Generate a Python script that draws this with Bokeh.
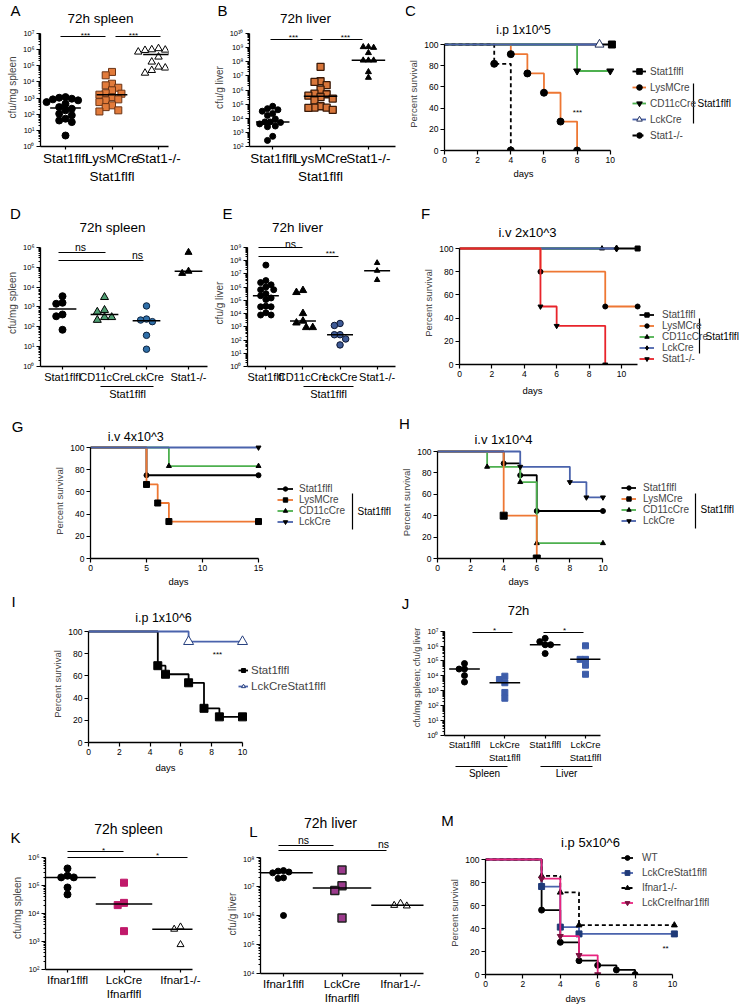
import numpy as np
from bokeh.plotting import figure
from bokeh.layouts import row, column
from bokeh.models import Range1d, FixedTicker, Label, Arrow, Legend, LegendItem
from bokeh.embed import file_html
from bokeh.resources import INLINE
from bokeh.core.properties import value

FONT = "Liberation Sans"

# ======================= DATA =======================
# scatter panels: log10 of the plotted value
A_cats = ["Stat1flfl", "LysMCre\nStat1flfl", "Stat1-/-"]
A_stat1flfl = [3.06, 3.02, 2.96, 2.92, 2.86, 2.75, 2.65, 2.44, 2.34, 2.24, 2.03, 1.93, 1.72, 1.61, 1.51, 0.68]
A_lysmcre = [4.62, 4.41, 3.89, 3.79, 3.64, 3.48, 3.30, 3.27, 3.21, 3.06, 2.92, 2.86, 2.75, 2.55, 2.44, 2.24, 2.17]
A_stat1ko = [6.07, 6.00, 5.98, 5.96, 5.90, 5.86, 5.55, 5.24, 4.93, 4.87, 4.72, 4.55]
A_sig = ["***", "***"]

B_cats = ["Stat1flfl", "LysMCre\nStat1flfl", "Stat1-/-"]
B_stat1flfl = [4.85, 4.68, 4.60, 4.50, 4.33, 4.20, 3.95, 3.74, 3.74, 3.70, 3.60, 3.45, 3.40, 2.72, 2.43]
B_lysmcre = [7.64, 6.62, 6.57, 6.34, 6.03, 5.75, 5.70, 5.60, 5.50, 5.39, 5.27, 4.85, 4.75, 4.75, 4.73, 4.60]
B_stat1ko = [9.05, 9.05, 9.00, 8.63, 8.10, 8.10, 8.10, 7.28, 6.88]
B_sig = ["***", "***"]

D_cats = ["Stat1flfl", "CD11cCre", "LckCre", "Stat1-/-"]
D_stat1flfl = [3.54, 3.21, 3.16, 2.62, 2.53, 1.85]
D_cd11ccre = [3.49, 2.84, 2.75, 2.48, 2.48, 2.34]
D_lckcre = [3.05, 2.39, 2.34, 2.26, 1.57, 0.87]
D_stat1ko = [5.75, 4.80, 4.69]
D_sig = ["ns", "ns"]
D_group = "Stat1flfl"

E_cats = ["Stat1flfl", "CD11cCre", "LckCre", "Stat1-/-"]
E_stat1flfl = [7.66, 6.49, 6.34, 6.17, 6.00, 5.80, 5.80, 5.50, 5.35, 5.18, 5.06, 4.56, 4.51, 4.51, 4.06, 3.89, 3.89]
E_cd11ccre = [5.75, 5.60, 4.01, 3.44, 3.30, 2.95, 2.95]
E_lckcre = [3.25, 3.10, 2.40, 2.40, 2.08, 1.63]
E_stat1ko = [7.83, 7.24, 6.54]
E_sig = ["ns", "***"]
E_group = "Stat1flfl"

J_cats = ["Stat1flfl", "LckCre\nStat1flfl", "Stat1flfl", "LckCre\nStat1flfl"]
J_groups = ["Spleen", "Liver"]
J_spleen_stat1flfl = [4.83, 4.46, 4.46, 4.02, 3.59]
J_spleen_lckcre = [3.98, 3.76, 3.54, 2.89, 2.50]
J_liver_stat1flfl = [6.52, 6.30, 6.09, 6.09, 5.50]
J_liver_lckcre = [6.02, 5.11, 5.11, 4.72, 4.11]
J_sig = ["*", "*"]

K_cats = ["Ifnar1flfl", "LckCre\nIfnarflfl", "Ifnar1-/-"]
K_ifnar1flfl = [5.61, 5.35, 5.29, 5.29, 4.93, 4.68]
K_lckcre = [5.10, 4.38, 4.30, 3.37]
K_ifnar1ko = [3.52, 3.44, 2.89]
K_sig = ["*", "*"]

L_cats = ["Ifnar1flfl", "LckCre\nIfnarflfl", "Ifnar1-/-"]
L_ifnar1flfl = [7.55, 7.53, 7.50, 7.47, 7.30, 7.28, 6.00]
L_lckcre = [7.57, 7.03, 6.86, 5.91]
L_ifnar1ko = [6.42, 6.35, 6.33]
L_sig = ["ns", "ns"]

# survival curves: event days, percent surviving after each event, last follow-up day
C_labels = ["Stat1flfl", "LysMCre", "CD11cCre", "LckCre", "Stat1-/-"]
C_stat1flfl_days, C_stat1flfl_surv, C_stat1flfl_end = [], [], 10.1
C_lysmcre_days, C_lysmcre_surv, C_lysmcre_end = [4, 5, 6, 7, 8], [90.9, 72.7, 54.5, 27.3, 0.0], None
C_cd11ccre_days, C_cd11ccre_surv, C_cd11ccre_end = [8], [75.0], 10
C_lckcre_days, C_lckcre_surv, C_lckcre_end = [], [], 9.35
C_stat1ko_days, C_stat1ko_surv, C_stat1ko_end = [3, 4], [81.8, 0.0], None

F_labels = ["Stat1flfl", "LysMCre", "CD11cCre", "LckCre", "Stat1-/-"]
F_stat1flfl_days, F_stat1flfl_surv, F_stat1flfl_end = [], [], 11
F_lysmcre_days, F_lysmcre_surv, F_lysmcre_end = [5, 9], [80.0, 50.0], 11
F_cd11ccre_days, F_cd11ccre_surv, F_cd11ccre_end = [], [], 8.8
F_lckcre_days, F_lckcre_surv, F_lckcre_end = [], [], 9.7
F_stat1ko_days, F_stat1ko_surv, F_stat1ko_end = [5, 6, 9], [50.0, 33.3, 0.0], None

G_labels = ["Stat1flfl", "LysMCre", "CD11cCre", "LckCre"]
G_stat1flfl_days, G_stat1flfl_surv, G_stat1flfl_end = [5], [75.0], 15
G_lysmcre_days, G_lysmcre_surv, G_lysmcre_end = [5, 6, 7], [66.7, 50.0, 33.3], 15
G_cd11ccre_days, G_cd11ccre_surv, G_cd11ccre_end = [7], [83.3], 15
G_lckcre_days, G_lckcre_surv, G_lckcre_end = [], [], 15

H_labels = ["Stat1flfl", "LysMCre", "CD11cCre", "LckCre"]
H_stat1flfl_days, H_stat1flfl_surv, H_stat1flfl_end = [4, 5, 6], [88.9, 77.8, 44.4], 10
H_lysmcre_days, H_lysmcre_surv, H_lysmcre_end = [4, 6], [40.0, 0.0], None
H_cd11ccre_days, H_cd11ccre_surv, H_cd11ccre_end = [3, 5, 6], [85.7, 71.4, 14.3], 10
H_lckcre_days, H_lckcre_surv, H_lckcre_end = [5, 8, 9], [85.7, 71.4, 57.1], 10

I_labels = ["Stat1flfl", "LckCreStat1flfl"]
I_stat1flfl_days, I_stat1flfl_surv, I_stat1flfl_end = [4.5, 5, 6.5, 7.5, 8.5], [69.2, 61.5, 53.8, 30.8, 23.1], 10
I_lckcre_days, I_lckcre_surv, I_lckcre_end = [6.5], [90.9], 10

M_labels = ["WT", "LckCreStat1flfl", "Ifnar1-/-", "LckCreIfnar1flfl"]
M_wt_days, M_wt_surv, M_wt_end = [3, 4, 5, 6, 7, 8], [56.0, 28.0, 12.0, 8.0, 4.0, 0.0], None
M_lckstat1_days, M_lckstat1_surv, M_lckstat1_end = [3, 4, 5], [76.5, 41.2, 35.3], 10.1
M_ifnar1ko_days, M_ifnar1ko_surv, M_ifnar1ko_end = [3, 4, 5], [85.7, 71.4, 42.9], 10.1
M_lckifnar_days, M_lckifnar_surv, M_lckifnar_end = [3, 4, 5, 6], [83.3, 33.3, 16.7, 0.0], None

# ======================= STYLE / HELPERS =======================
ORANGE = "#EE7733"
GREEN = "#4DB04F"
BLUE = "#4A63AC"
RED = "#E8242B"
PINK = "#E8247F"
SUPD = str.maketrans("0123456789-", "\u2070\u00b9\u00b2\u00b3\u2074\u2075\u2076\u2077\u2078\u2079\u207b")


def pow10(e):
    return "10" + str(e).translate(SUPD)


def lin_range(v_a, p_a, v_b, p_b, p_start, p_end):
    k = (v_b - v_a) / (p_b - p_a)
    return (v_a + (p_start - p_a) * k, v_a + (p_end - p_a) * k)


class Strip:
    """Axis-less strip whose data coordinates are the page pixels (y downward)."""
    def __init__(self, x0, y0, w, h):
        p = figure(width=w, height=h, x_range=Range1d(x0, x0 + w), y_range=Range1d(y0 + h, y0),
                   output_backend="svg", toolbar_location=None, x_axis_location=None, y_axis_location=None,
                   min_border_left=0, min_border_right=0, min_border_top=0, min_border_bottom=0,
                   frame_align=False)
        p.outline_line_color = None
        p.grid.visible = False
        p.background_fill_color = "white"
        p.border_fill_color = "white"
        self.p = p

    def text(self, x, y, s, size, align="center"):
        self.p.text(x=[x], y=[y], text=[s], text_font=value(FONT), text_font_size=f"{size}px",
                    text_align=align, text_baseline="middle", text_color="black")

    def seg(self, x0, y0, x1, y1, width=1.2):
        self.p.segment(x0=[x0], y0=[y0], x1=[x1], y1=[y1], line_color="black", line_width=width)


class Panel:
    def __init__(self, box, frame, xr, yr, ylog=False):
        self.ox, self.oy, self.w, self.h = box
        self.fl, self.ft, self.fr, self.fb = frame
        p = figure(width=self.w, height=self.h, x_range=Range1d(*xr), y_range=Range1d(*yr),
                   y_axis_type=("log" if ylog else "linear"), output_backend="svg",
                   toolbar_location=None, frame_align=False,
                   min_border_left=self.fl - self.ox, min_border_right=self.ox + self.w - self.fr,
                   min_border_top=self.ft - self.oy, min_border_bottom=self.oy + self.h - self.fb)
        p.outline_line_color = None
        p.xgrid.visible = False
        p.ygrid.visible = False
        p.background_fill_color = "white"
        p.border_fill_color = "white"
        self.p = p

    def text(self, x, y, s, size, align="center"):
        self.p.add_layout(Label(x=x - self.ox, y=y - self.oy, x_units="canvas", y_units="canvas",
                                text=s, text_font=FONT, text_font_size=f"{size}px",
                                text_align=align, text_baseline="middle", text_color="black"))

    def seg(self, x0, y0, x1, y1, width=1.2):
        self.p.add_layout(Arrow(x_start=x0 - self.ox, y_start=y0 - self.oy, x_end=x1 - self.ox, y_end=y1 - self.oy,
                                start_units="canvas", end_units="canvas", start=None, end=None,
                                line_color="black", line_width=width))


def style_axes(p, tick_size, lab_size):
    for ax in (p.xaxis[0], p.yaxis[0]):
        ax.axis_line_width = 1.3
        ax.axis_line_color = "black"
        ax.major_tick_line_width = 1.2
        ax.major_tick_line_color = "black"
        ax.minor_tick_line_color = "black"
        ax.major_tick_out = 4
        ax.major_tick_in = 0
        ax.minor_tick_out = 2
        ax.minor_tick_in = 0
        ax.major_label_text_font = FONT
        ax.major_label_text_font_size = f"{tick_size}px"
        ax.major_label_text_color = "black"
        ax.axis_label_text_font = FONT
        ax.axis_label_text_font_style = "normal"
        ax.axis_label_text_font_size = f"{lab_size}px"
        ax.major_label_standoff = 2
        ax.axis_label_standoff = 2


def scatter_panel(box, frame, cat_first, cat_last, ncat, e_hi, p_hi, e_lo, p_lo,
                  labels, label_size, ylabel, ylabel_size, tick_size=7.5):
    fl, ft, fr, fb = frame
    xr = lin_range(1, cat_first, ncat, cat_last, fl, fr)
    er = lin_range(e_lo, p_lo, e_hi, p_hi, fb, ft)
    P = Panel(box, frame, xr, (10 ** er[0], 10 ** er[1]), ylog=True)
    P.unit = (cat_last - cat_first) / (ncat - 1)
    P.dec = (p_lo - p_hi) / (e_hi - e_lo)
    style_axes(P.p, tick_size, ylabel_size)
    ticks = [10.0 ** e for e in range(e_lo, e_hi + 1)]
    minors = [m * 10.0 ** e for e in range(e_lo, e_hi) for m in range(2, 10)]
    ya = P.p.yaxis[0]
    ya.ticker = FixedTicker(ticks=ticks, minor_ticks=minors)
    ya.major_label_overrides = {t: pow10(e) for t, e in zip(ticks, range(e_lo, e_hi + 1))}
    ya.bounds = (ticks[0], ticks[-1])
    ya.axis_label = ylabel
    xa = P.p.xaxis[0]
    xa.ticker = FixedTicker(ticks=list(range(1, ncat + 1)), minor_ticks=[])
    xa.major_label_overrides = {i + 1: lab for i, lab in enumerate(labels)}
    xa.major_label_text_font_size = f"{label_size}px"
    xa.major_tick_out = 3
    xa.major_label_standoff = 1
    return P


def swarm(vals, dec_px, d):
    v = np.asarray(vals, float) * dec_px
    order = np.argsort(-v, kind="stable")
    cands = sorted({k * d * 0.5 for k in range(-12, 13)}, key=lambda t: (abs(t), t))
    placed = []
    out = np.zeros(len(v))
    for i in order:
        for c in cands:
            if all((c - px) ** 2 + (v[i] - py) ** 2 >= d * d for px, py in placed):
                out[i] = c
                placed.append((c, v[i]))
                break
    return out


def draw_groups(P, groups, half):
    for i, (vals, st) in enumerate(groups, start=1):
        offs = swarm(vals, P.dec, st["size"] * 0.9) / P.unit
        xs = [i + o for o in offs]
        ys = [10.0 ** v for v in vals]
        P.p.scatter(xs, ys, marker=st["marker"], size=st["size"], fill_color=st["fill"],
                    line_color=st["line"], line_width=st.get("lw", 1.0))
        med = float(np.median(vals))
        P.p.segment(x0=[i - half], y0=[10.0 ** med], x1=[i + half], y1=[10.0 ** med],
                    line_color="black", line_width=1.5)


def surv_panel(box, frame, x0_px, day_px, y0_px, y100_px, xmax, xstep):
    fl, ft, fr, fb = frame
    xr = lin_range(0, x0_px, 1, x0_px + day_px, fl, fr)
    yr = lin_range(0, y0_px, 100, y100_px, fb, ft)
    P = Panel(box, frame, xr, yr)
    style_axes(P.p, 8.5, 9.5)
    P.p.xaxis.ticker = FixedTicker(ticks=list(range(0, xmax + 1, xstep)), minor_ticks=[])
    P.p.yaxis.ticker = FixedTicker(ticks=[0, 20, 40, 60, 80, 100], minor_ticks=[])
    P.p.xaxis.bounds = (0, xmax)
    P.p.yaxis.bounds = (0, 100)
    P.p.yaxis.axis_label = "Percent survival"
    return P


def km(P, days, surv, end, color, marker, msize, mfill="black", mline="black", dash="solid", lw=1.8):
    xs = [0.0] + list(days)
    ys = [100.0] + list(surv)
    last = ys[-1]
    if end is not None:
        xs.append(end)
        ys.append(last)
    rl = P.p.step(xs, ys, mode="after", line_color=color, line_width=lw, line_dash=dash)
    mx = list(days) + ([end] if end is not None else [])
    my = list(surv) + ([last] if end is not None else [])
    rm = P.p.scatter(mx, my, marker=marker, size=msize, fill_color=mfill, line_color=mline, line_width=1)
    return [rl, rm]


def add_legend(P, entries, glyph_left, first_cy, pitch, glyph_w, standoff, size):
    n = len(entries)
    g = int(round(pitch))
    top = first_cy - g / 2.0
    bottom = top + n * g
    leg = Legend(items=[LegendItem(label=lab, renderers=r) for lab, r in entries],
                 location=(glyph_left - P.fl, P.fb - bottom),
                 glyph_width=glyph_w, glyph_height=g, label_height=g, spacing=0, padding=0, margin=0,
                 label_standoff=standoff, label_text_font=FONT, label_text_font_size=f"{size}px",
                 border_line_color=None, background_fill_alpha=0)
    P.p.add_layout(leg)


# ======================= ROW 1 =======================
hA = Strip(0, 0, 210, 26)
hA.text(15, 10, "A", 15)
hA.text(100, 18, "72h spleen", 13.5)
A = scatter_panel((0, 26, 210, 164), (40, 28, 168, 146), 65, 158, 3, 7, 33, 0, 146,
                  A_cats, 13.5, "cfu/mg spleen", 10)
draw_groups(A, [
    (A_stat1flfl, dict(marker="circle", size=7, fill="black", line="black")),
    (A_lysmcre, dict(marker="square", size=7, fill="#E27B3B", line="#6B3415")),
    (A_stat1ko, dict(marker="triangle", size=7.5, fill="white", line="black")),
], 0.33)
A.seg(60, 36, 105, 36)
A.seg(115, 36, 160, 36)
A.text(85, 35, A_sig[0], 8)
A.text(133, 35, A_sig[1], 8)

hB = Strip(210, 0, 195, 26)
hB.text(222, 10, "B", 15)
hB.text(305, 18, "72h liver", 13.5)
B = scatter_panel((210, 26, 195, 164), (244, 28, 395, 146), 268, 367, 3, 10, 33, 2, 146,
                  B_cats, 13.5, "cfu/g liver", 10)
draw_groups(B, [
    (B_stat1flfl, dict(marker="circle", size=6, fill="black", line="black")),
    (B_lysmcre, dict(marker="square", size=7, fill="#D8763A", line="#3A1A08", lw=1.3)),
    (B_stat1ko, dict(marker="triangle", size=6, fill="black", line="black")),
], 0.35)
B.seg(270, 39, 312, 39)
B.seg(320, 39, 362, 39)
B.text(293, 37, B_sig[0], 8)
B.text(345, 37, B_sig[1], 8)

hC = Strip(405, 0, 337, 36)
hC.text(410, 10, "C", 15)
hC.text(523, 29, "i.p 1x10^5", 12)
C = surv_panel((405, 36, 337, 132), (440, 37, 740, 150), 440, 16.8, 150, 44, 10, 2)
c1 = km(C, C_stat1flfl_days, C_stat1flfl_surv, C_stat1flfl_end, "black", "square", 7)
c2 = km(C, C_lysmcre_days, C_lysmcre_surv, C_lysmcre_end, ORANGE, "circle", 7)
c3 = km(C, C_cd11ccre_days, C_cd11ccre_surv, C_cd11ccre_end, GREEN, "inverted_triangle", 7)
c5 = km(C, C_stat1ko_days, C_stat1ko_surv, C_stat1ko_end, "black", "circle", 7, dash="4 3")
c4 = km(C, C_lckcre_days, C_lckcre_surv, C_lckcre_end, BLUE, "triangle", 9, mfill="white", mline="#1F2D5A")
add_legend(C, list(zip(C_labels, [c1, c2, c3, c4, c5])), 628, 71, 16.25, 14, 4, 10)
C.seg(693, 83, 693, 123)
C.text(697, 103, "Stat1flfl", 10, align="left")
C.text(577, 112, "***", 8)
fC = Strip(405, 168, 337, 22)
fC.text(523, 173, "days", 9.5)

# ======================= ROW 2 =======================
hD = Strip(0, 190, 210, 48)
hD.text(15, 213, "D", 15)
hD.text(112, 227, "72h spleen", 13.5)
D = scatter_panel((0, 238, 210, 147), (40, 239, 207, 368), 62, 188, 4, 6, 247, 0, 368,
                  D_cats, 11, "cfu/mg spleen", 10)
draw_groups(D, [
    (D_stat1flfl, dict(marker="circle", size=7, fill="black", line="black")),
    (D_cd11ccre, dict(marker="triangle", size=8, fill="#4F9E72", line="black")),
    (D_lckcre, dict(marker="circle", size=6.5, fill="#2F6FA8", line="#0D2440")),
    (D_stat1ko, dict(marker="triangle", size=7, fill="black", line="black")),
], 0.33)
D.seg(58, 252, 105, 252)
D.seg(58, 260, 143, 260)
D.text(80, 246, D_sig[0], 10.5)
D.text(137, 254, D_sig[1], 10.5)
fD = Strip(0, 385, 210, 15)
fD.seg(100, 386, 153, 386)
fD.text(127, 393, D_group, 11)

hE = Strip(210, 190, 210, 48)
hE.text(227, 213, "E", 15)
hE.text(297, 227, "72h liver", 13.5)
E = scatter_panel((210, 238, 210, 147), (242, 239, 395, 368), 261, 376, 4, 9, 247, 0, 368,
                  E_cats, 11, "cfu/g liver", 10)
draw_groups(E, [
    (E_stat1flfl, dict(marker="circle", size=6, fill="black", line="black")),
    (E_cd11ccre, dict(marker="triangle", size=7.5, fill="black", line="black")),
    (E_lckcre, dict(marker="circle", size=6.5, fill="#3E5A96", line="#0B1530")),
    (E_stat1ko, dict(marker="triangle", size=5.5, fill="black", line="black")),
], 0.35)
E.seg(258, 247, 302, 247)
E.seg(258, 256, 338, 256)
E.text(290, 243, E_sig[0], 10.5)
E.text(330, 253, E_sig[1], 8)
fE = Strip(210, 385, 210, 15)
fE.seg(303, 386, 353, 386)
fE.text(328, 393, E_group, 11)

hF = Strip(420, 190, 322, 50)
hF.text(425, 213, "F", 15)
hF.text(527, 232, "i.v 2x10^3", 13)
F = surv_panel((420, 240, 322, 142), (445, 241, 740, 364), 445, 17, 364, 248, 10, 2)
F.p.xaxis.bounds = (0, 11)
f1 = km(F, F_stat1flfl_days, F_stat1flfl_surv, F_stat1flfl_end, "black", "square", 5)
f3 = km(F, F_cd11ccre_days, F_cd11ccre_surv, F_cd11ccre_end, GREEN, "triangle", 5)
f4 = km(F, F_lckcre_days, F_lckcre_surv, F_lckcre_end, BLUE, "diamond", 7)
f2 = km(F, F_lysmcre_days, F_lysmcre_surv, F_lysmcre_end, ORANGE, "circle", 5)
f5 = km(F, F_stat1ko_days, F_stat1ko_surv, F_stat1ko_end, RED, "inverted_triangle", 5)
add_legend(F, list(zip(F_labels, [f1, f2, f3, f4, f5])), 625, 314, 10.75, 15, 8, 10)
F.seg(699, 318, 699, 353)
F.text(705, 336, "Stat1flfl", 10, align="left")
fF = Strip(420, 382, 322, 18)
fF.text(532, 390, "days", 9.5)

# ======================= ROW 3 =======================
hG = Strip(0, 400, 398, 443 - 400)
hG.text(17, 426, "G", 15)
hG.text(137, 436, "i.v  4x10^3", 12.5)
G = surv_panel((0, 443, 398, 133), (90, 443, 396, 558), 90, 11.2, 558, 447, 15, 5)
g1 = km(G, G_stat1flfl_days, G_stat1flfl_surv, G_stat1flfl_end, "black", "circle", 5)
g3 = km(G, G_cd11ccre_days, G_cd11ccre_surv, G_cd11ccre_end, GREEN, "triangle", 5)
g2 = km(G, G_lysmcre_days, G_lysmcre_surv, G_lysmcre_end, ORANGE, "square", 6)
g4 = km(G, G_lckcre_days, G_lckcre_surv, G_lckcre_end, BLUE, "inverted_triangle", 5)
add_legend(G, list(zip(G_labels, [g1, g2, g3, g4])), 277, 488, 11.2, 16, 6, 10)
G.seg(352, 493, 352, 529)
G.text(357, 511, "Stat1flfl", 10, align="left")
fG = Strip(0, 576, 398, 14)
fG.text(178, 581, "days", 9.5)

hH = Strip(398, 400, 344, 446 - 400)
hH.text(404, 423, "H", 15)
hH.text(503, 439, "i.v 1x10^4", 13)
H = surv_panel((398, 446, 344, 130), (436, 446, 740, 558), 436, 16.6, 558, 451, 10, 2)
h1 = km(H, H_stat1flfl_days, H_stat1flfl_surv, H_stat1flfl_end, "black", "circle", 5)
h3 = km(H, H_cd11ccre_days, H_cd11ccre_surv, H_cd11ccre_end, GREEN, "triangle", 5)
h2 = km(H, H_lysmcre_days, H_lysmcre_surv, H_lysmcre_end, ORANGE, "square", 7)
h4 = km(H, H_lckcre_days, H_lckcre_surv, H_lckcre_end, BLUE, "inverted_triangle", 5)
add_legend(H, list(zip(H_labels, [h1, h2, h3, h4])), 620, 487, 11.2, 15, 7, 10)
H.seg(695, 493, 695, 528)
H.text(700, 509, "Stat1flfl", 10, align="left")
fH = Strip(398, 576, 344, 14)
fH.text(518, 581, "days", 9.5)

# ======================= ROW 4 =======================
hI = Strip(0, 590, 398, 625 - 590)
hI.text(13, 601, "I", 15)
hI.text(163, 617, "i.p 1x10^6", 12.5)
I = surv_panel((0, 625, 398, 135), (88, 625, 396, 742), 88, 15.4, 742, 631, 10, 2)
i1 = km(I, I_stat1flfl_days, I_stat1flfl_surv, I_stat1flfl_end, "black", "square", 8)
i2 = km(I, I_lckcre_days, I_lckcre_surv, I_lckcre_end, BLUE, "triangle", 10, mfill="white", mline="#27407F")
add_legend(I, list(zip(I_labels, [i1, i2])), 238, 670, 16, 10, 3, 11.5)
I.text(217, 654, "***", 8)
fI = Strip(0, 760, 398, 20)
fI.text(165, 767, "days", 9.5)

hJ = Strip(398, 590, 344, 28)
hJ.text(405, 603, "J", 15)
hJ.text(518, 610, "72h", 13)
J = scatter_panel((398, 618, 344, 147), (444, 619, 600, 738), 464, 585, 4, 7, 631, 0, 738,
                  J_cats, 9.5, "cfu/mg spleen; cfu/g liver", 9)
draw_groups(J, [
    (J_spleen_stat1flfl, dict(marker="circle", size=6, fill="black", line="black")),
    (J_spleen_lckcre, dict(marker="square", size=6, fill="#3D5DAA", line="#3D5DAA")),
    (J_liver_stat1flfl, dict(marker="circle", size=6, fill="black", line="black")),
    (J_liver_lckcre, dict(marker="square", size=6, fill="#3D5DAA", line="#3D5DAA")),
], 0.38)
J.p.xaxis.major_label_standoff = 0
J.seg(472, 632, 512, 632)
J.seg(543, 632, 583, 632)
J.text(494, 630, J_sig[0], 8)
J.text(564, 630, J_sig[1], 8)
fJ = Strip(398, 765, 344, 15)
fJ.seg(455, 766, 507, 766)
fJ.seg(540, 766, 592, 766)
fJ.text(484, 773, J_groups[0], 10)
fJ.text(566, 773, J_groups[1], 10)

# ======================= ROW 5 =======================
hK = Strip(0, 780, 213, 66)
hK.text(15, 837, "K", 15)
hK.text(128, 828, "72h spleen", 14)
K = scatter_panel((0, 846, 213, 160), (45, 846, 192, 969), 67, 180, 3, 6, 857, 2, 969,
                  K_cats, 11.5, "cfu/mg spleen", 10)
draw_groups(K, [
    (K_ifnar1flfl, dict(marker="circle", size=7, fill="black", line="black")),
    (K_lckcre, dict(marker="square", size=7, fill="#C0196A", line="#C0196A")),
    (K_ifnar1ko, dict(marker="triangle", size=7, fill="white", line="black")),
], 0.5)
K.seg(67, 851, 123, 851)
K.seg(67, 857, 187, 857)
K.text(103, 850, K_sig[0], 8)
K.text(157, 855, K_sig[1], 8)

hL = Strip(213, 780, 212, 74)
hL.text(253, 831, "L", 15)
hL.text(330, 822, "72h liver", 14)
hL.seg(278, 845, 333, 845)
hL.seg(278, 850, 386, 850)
hL.text(303, 839, L_sig[0], 10.5)
hL.text(383, 843, L_sig[1], 10.5)
L = scatter_panel((213, 854, 212, 152), (260, 854, 423, 973), 283, 400, 3, 8, 857, 4, 973,
                  L_cats, 11.5, "cfu/g liver", 10)
L.p.min_border_top = 0
draw_groups(L, [
    (L_ifnar1flfl, dict(marker="circle", size=6, fill="black", line="black")),
    (L_lckcre, dict(marker="square", size=8, fill="#9B3A8C", line="#222222", lw=1.5)),
    (L_ifnar1ko, dict(marker="triangle", size=7, fill="white", line="black")),
], 0.5)

hM = Strip(425, 780, 317, 70)
hM.text(447, 820, "M", 15)
hM.text(590, 842, "i.p 5x10^6", 13)
M = surv_panel((425, 850, 317, 142), (485, 851, 740, 974), 485, 18.7, 974, 859, 10, 2)
m1 = km(M, M_wt_days, M_wt_surv, M_wt_end, "black", "circle", 6)
m2 = km(M, M_lckstat1_days, M_lckstat1_surv, M_lckstat1_end, BLUE, "square", 6, mfill="#1F3A78", mline="#1F3A78")
m3 = km(M, M_ifnar1ko_days, M_ifnar1ko_surv, M_ifnar1ko_end, "black", "triangle", 6, dash="4 3")
m4 = km(M, M_lckifnar_days, M_lckifnar_surv, M_lckifnar_end, PINK, "inverted_triangle", 6, mfill="#7A1240", mline="#7A1240")
add_legend(M, list(zip(M_labels, [m1, m2, m3, m4])), 621, 857, 15, 12, 9, 10)
M.text(665, 948, "**", 8)
fM = Strip(425, 992, 317, 14)
fM.text(575, 998, "days", 9.5)

layout = column(
    row(column(hA.p, A.p), column(hB.p, B.p), column(hC.p, C.p, fC.p)),
    row(column(hD.p, D.p, fD.p), column(hE.p, E.p, fE.p), column(hF.p, F.p, fF.p)),
    row(column(hG.p, G.p, fG.p), column(hH.p, H.p, fH.p)),
    row(column(hI.p, I.p, fI.p), column(hJ.p, J.p, fJ.p)),
    row(column(hK.p, K.p), column(hL.p, L.p), column(hM.p, M.p, fM.p)),
)
open("out.html", "w").write(file_html(layout, INLINE, "Figure"))
